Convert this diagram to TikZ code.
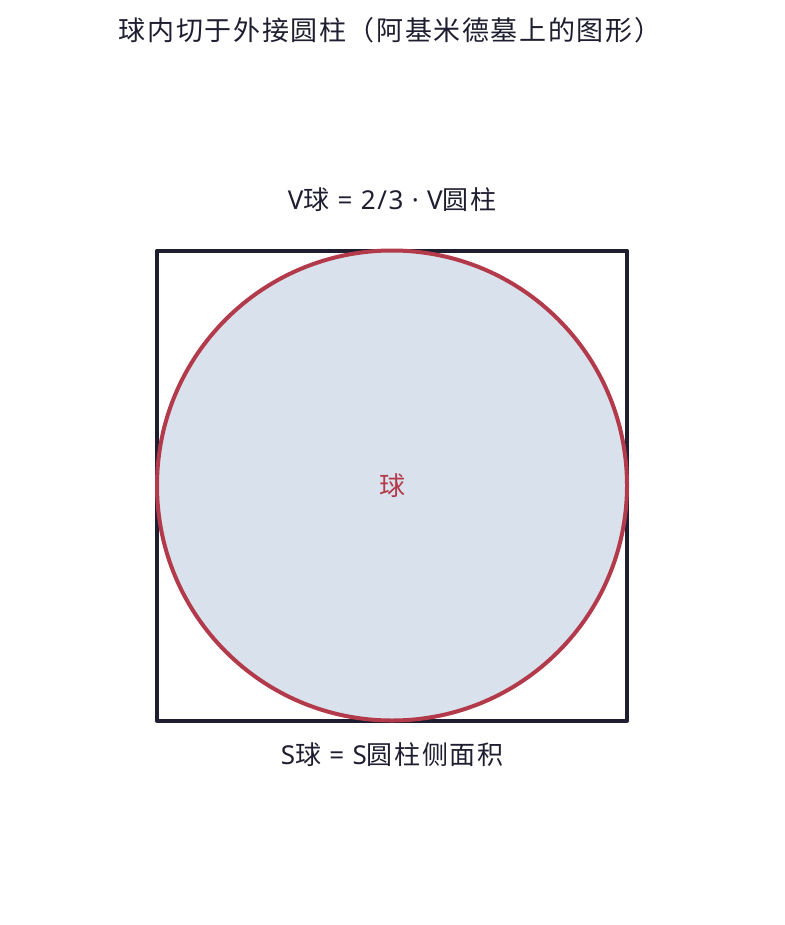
\documentclass[tikz,border=0pt]{standalone}
\usepackage{fontspec}
\setmainfont{Noto Sans}[LetterSpace=6]
\newfontfamily\cjk{Noto Sans CJK SC}[LetterSpace=6]
\usetikzlibrary{positioning}
\definecolor{ink}{HTML}{1E1E30}
\definecolor{ballred}{HTML}{B33A4A}
\definecolor{ballfill}{HTML}{D9E2EC}
\begin{document}
\begin{tikzpicture}[x=1pt,y=-1pt,line join=round,
		lbl/.style={text=ink,font=\fontsize{26}{30}\selectfont}]
		\useasboundingbox (0,0) rectangle (784,925);
		\node[text=ink,font=\cjk\fontsize{27}{32}\selectfont] (title) at (390,30) {球内切于外接圆柱（阿基米德墓上的图形）};
		\node[draw=ink,line width=4pt,minimum size=470pt,inner sep=0pt] (cyl) at (392,485.5) {};
		\node[circle,draw=ballred,fill=ballfill,line width=4pt,minimum size=470pt,inner sep=0pt,
		text=ballred,font=\cjk\fontsize{26}{30}\selectfont] (ball) at (cyl.center) {球};
		\node[lbl] (vol) at (392,200) {V{\cjk 球} = 2/3 · V{\cjk 圆柱}};
		\node[lbl] (area) at (392,755) {S{\cjk 球} = S{\cjk 圆柱侧面积}};
		\end{tikzpicture}
\end{document}
